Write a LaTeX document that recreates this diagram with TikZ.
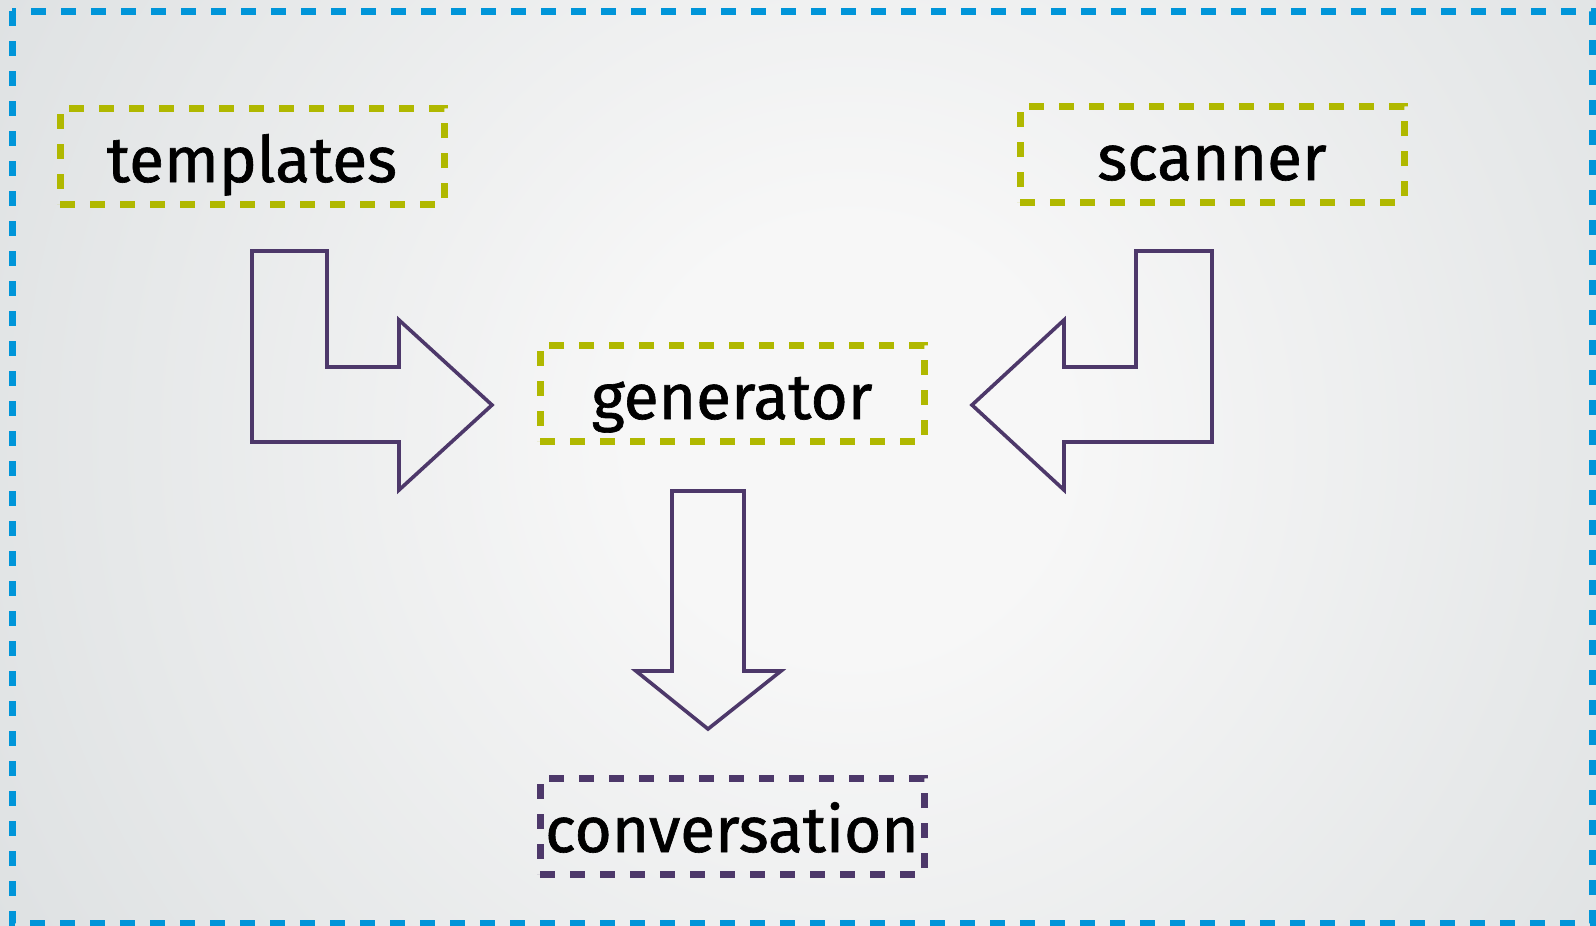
\documentclass[tikz,border=0pt]{standalone}
\usepackage{fontspec}
\setmainfont{Fira Sans}[FakeBold=1.0]

\definecolor{framecyan}{HTML}{0095D9}
\definecolor{boxolive}{HTML}{B0B800}
\definecolor{flowpurple}{HTML}{4D386A}
\definecolor{bgcenter}{HTML}{F7F7F7}
\definecolor{bgmid}{HTML}{CFD4D6}
\definecolor{bgedge}{HTML}{C4CACD}

% soft light spot in the middle of the canvas, greying out towards the edges
\pgfdeclareradialshading{backdrop}{\pgfpoint{0bp}{0bp}}{%
  color(0bp)=(bgcenter); color(6bp)=(bgcenter); color(40bp)=(bgmid); color(50bp)=(bgedge)}

\tikzset{
  outerframe/.style={draw=framecyan, line width=7pt, dash pattern=on 15pt off 15pt},
  stagebox/.style={draw=#1, line width=7pt, dash pattern=on 15pt off 15pt,
    minimum width=384pt, minimum height=96pt, inner sep=0pt,
    text height=74pt, text depth=22pt, anchor=base,
    font=\fontsize{64}{70}\selectfont, text=black},
  blockarrow/.style={draw=flowpurple, line width=3.6pt, line join=miter}
}

\begin{document}
\begin{tikzpicture}[x=1pt, y=-1pt]
\useasboundingbox (0,0) rectangle (1596,926);

% background
\begin{scope}
  \clip (0,0) rectangle (1596,926);
  \shade[shading=backdrop] (-50,-460) rectangle (1750,1340);
\end{scope}

% dashed outer frame
\draw[outerframe] (12,11) rectangle (1592,923);

% stages
\node[stagebox=boxolive] (templates) at (252,182) {templates};
\node[stagebox=boxolive] (scanner) at (1212,180) {scanner};
\node[stagebox=boxolive] (generator) at (732,419) {generator};
\node[stagebox=flowpurple] (conversation) at (732,852) {conversation};

% templates feed the generator
\draw[blockarrow] (252,251) -- (327,251) -- (327,367) -- (399,367) -- (399,320)
  -- (492,405) -- (399,490) -- (399,442) -- (252,442) -- cycle;

% scanner feeds the generator
\draw[blockarrow] (1212,251) -- (1136,251) -- (1136,367) -- (1064,367) -- (1064,320)
  -- (972,405) -- (1064,490) -- (1064,442) -- (1212,442) -- cycle;

% generator produces the conversation
\draw[blockarrow] (672,491) -- (744,491) -- (744,671) -- (781,671)
  -- (708,729) -- (636,671) -- (672,671) -- cycle;
\end{tikzpicture}
\end{document}
